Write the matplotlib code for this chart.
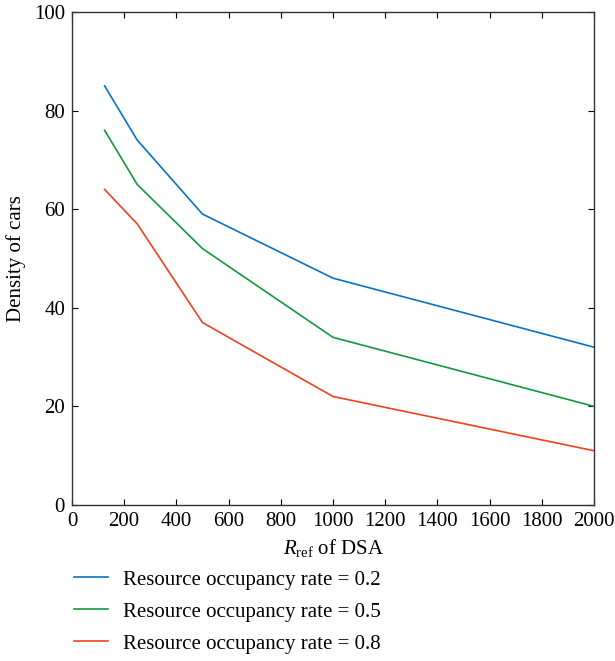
import matplotlib
matplotlib.use("Agg")
from matplotlib import pylab as plt

r_ref = [125, 250, 500, 1000, 2000]
density_02 = [85, 74, 59, 46, 32]
density_05 = [76, 65, 52, 34, 20]
density_08 = [64, 57, 37, 22, 11]
labels = ["Resource occupancy rate = 0.2",
          "Resource occupancy rate = 0.5",
          "Resource occupancy rate = 0.8"]
colors = ["#0a72c2", "#12993c", "#f0421e"]

plt.rcParams['font.family'] = ['Liberation Serif', 'DejaVu Serif']
plt.rcParams['mathtext.fontset'] = 'custom'
plt.rcParams['mathtext.rm'] = 'Liberation Serif'
plt.rcParams['mathtext.it'] = 'Liberation Serif:italic'
FS = 15

fig = plt.figure(figsize=(6.15, 6.61), dpi=100)
ax = fig.add_axes([0.117, 0.236, 0.849, 0.746])

for ys, lab, c in zip([density_02, density_05, density_08], labels, colors):
    ax.plot(r_ref, ys, color=c, lw=1.2, label=lab)

ax.set_xlim(0, 2000)
ax.set_ylim(0, 100)
ax.set_xticks(range(0, 2001, 200))
ax.set_yticks(range(0, 101, 20))
ax.tick_params(direction='in', top=True, right=True, length=4, width=0.8,
               labelsize=FS, pad=5)
for s in ax.spines.values():
    s.set_linewidth(1.0)
    s.set_color('#333333')
ax.set_xlabel(r"$R_{\mathrm{ref}}$ of DSA", fontsize=FS, labelpad=4)
ax.set_ylabel("Density of cars", fontsize=FS, labelpad=6)

handles, labs = ax.get_legend_handles_labels()
fig.legend(handles, labs, loc='upper left', bbox_to_anchor=(0.09, 0.166),
           frameon=False, fontsize=FS, handlelength=1.65, handletextpad=0.7,
           labelspacing=0.6)

fig.savefig("out.png", dpi=100)
